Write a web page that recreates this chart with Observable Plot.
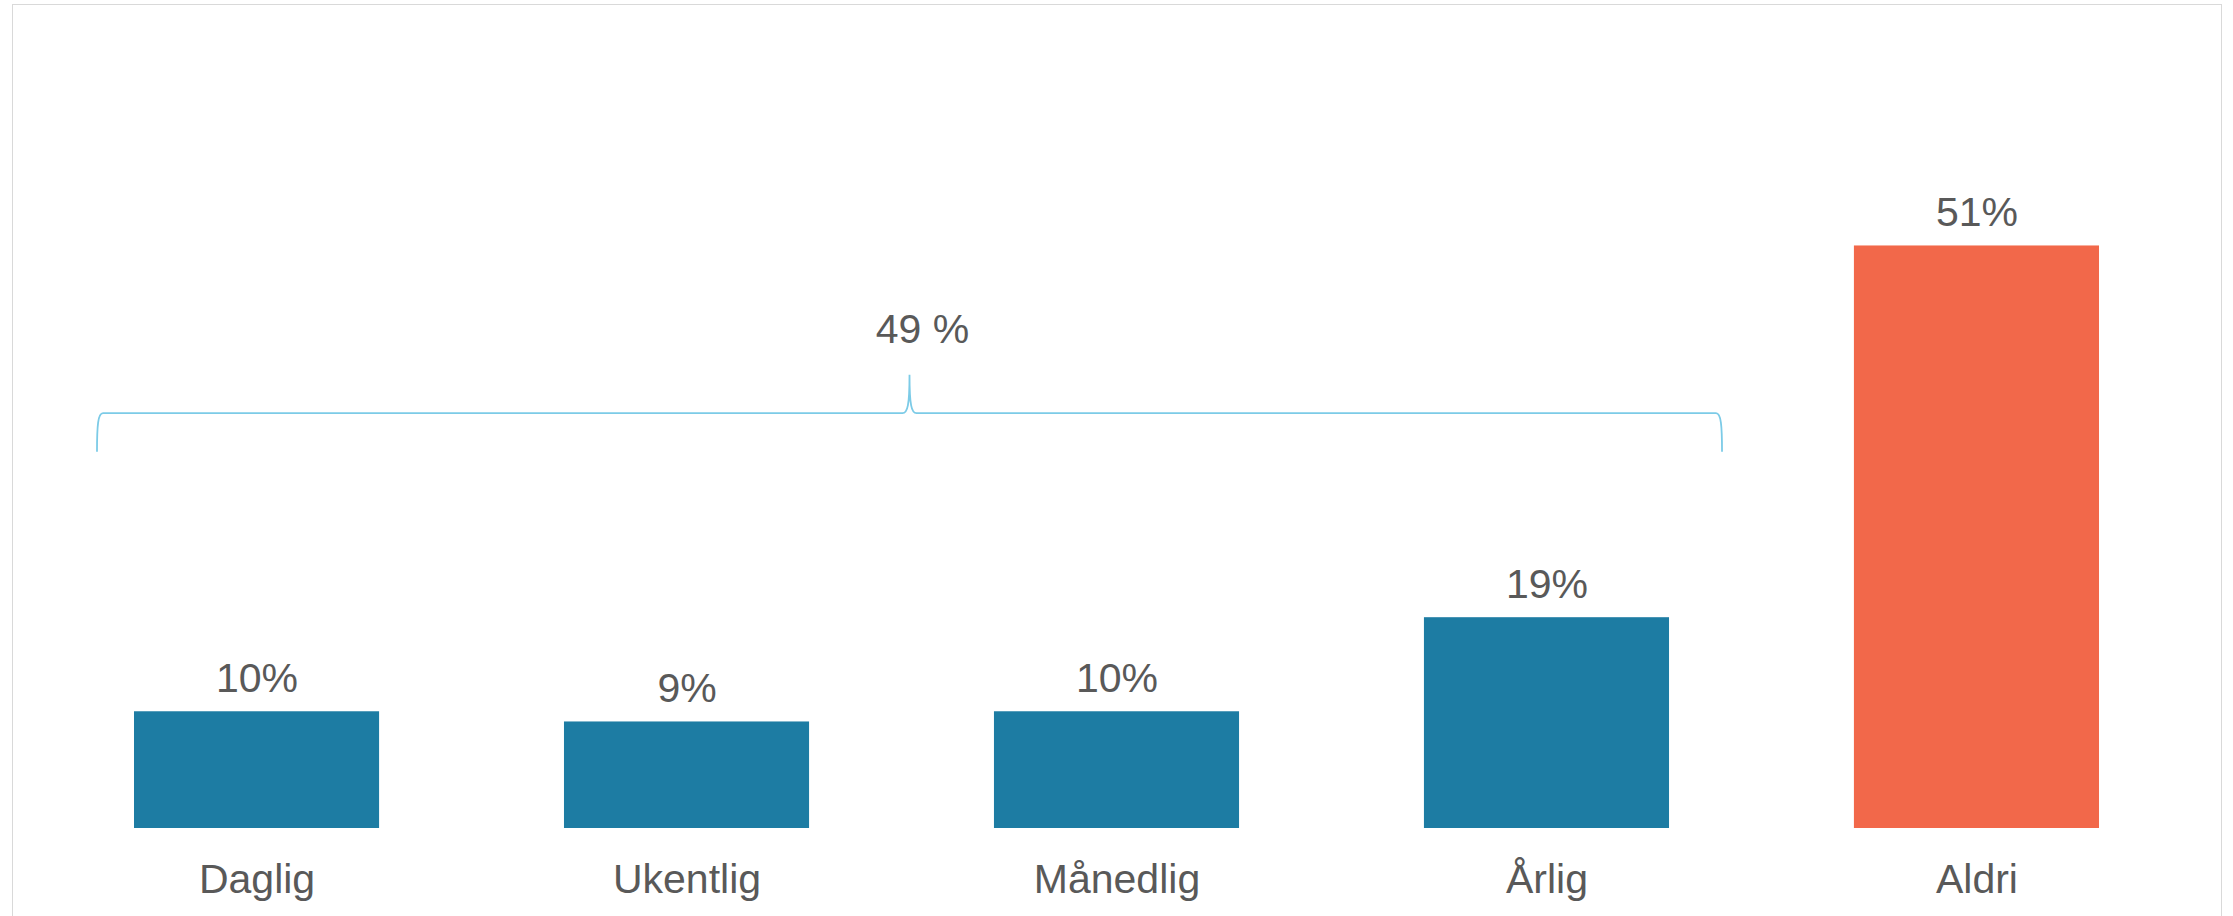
<!DOCTYPE html>
<html><head><meta charset="utf-8">
<script src="https://cdn.jsdelivr.net/npm/d3@7"></script>
<script src="https://cdn.jsdelivr.net/npm/@observablehq/plot@0.6"></script>
<style>
html,body{margin:0;padding:0;background:#fff;overflow:hidden}
#frame{position:absolute;left:12px;top:4px;width:2210px;height:1000px;border:1.5px solid #d9d9d9;box-sizing:border-box}
#chart{position:absolute;left:0;top:0}
</style></head><body><div id="frame"></div><div id="chart"></div>
<script>
const categories = ["Daglig", "Ukentlig", "Månedlig", "Årlig", "Aldri"];
const values = [10.3, 9.4, 10.3, 18.6, 51.4];
const groups = ["bruker", "bruker", "bruker", "bruker", "aldri"];
const braceCategories = ["Daglig", "Ukentlig", "Månedlig", "Årlig"];

const rows = categories.map((c, i) => ({category: c, value: values[i], group: groups[i]}));
const braceTotal = d3.sum(rows.filter(d => braceCategories.includes(d.category)), d => d.value);

const textColor = "#595959";
const font = "'Liberation Sans', Arial, sans-serif";

function brace(index, scales) {
  const x = scales.x, y = scales.y;
  const bw = x.bandwidth ? x.bandwidth() : 0;
  const L = x(braceCategories[0]) - 37;
  const R = x(braceCategories[braceCategories.length - 1]) + bw + 53;
  const M = (L + R) / 2;
  const yh = y(36.6), yb = y(33.2), yt = y(40.0);
  const p = [
    `M${L},${yb}`,
    `C${L},${yh + 12} ${L + 1},${yh} ${L + 6},${yh}`,
    `L${M - 7},${yh}`,
    `C${M - 2},${yh} ${M},${yh - 8} ${M},${yt}`,
    `C${M},${yh - 8} ${M + 2},${yh} ${M + 7},${yh}`,
    `L${R - 6},${yh}`,
    `C${R - 1},${yh} ${R},${yh + 12} ${R},${yb}`
  ].join(" ");
  const g = d3.create("svg:g");
  g.append("path").attr("d", p).attr("fill", "none")
    .attr("stroke", "#7ccbe7").attr("stroke-width", 1.8);
  g.append("text").attr("x", M + 13).attr("y", y(42.8))
    .attr("text-anchor", "middle").attr("fill", textColor)
    .attr("font-size", 41).attr("font-family", font)
    .text(`${Math.round(braceTotal)} %`);
  return g.node();
}

const chart = Plot.plot({
  width: 2233,
  height: 916,
  marginLeft: 5,
  marginRight: 5,
  marginTop: 148,
  marginBottom: 88,
  style: {fontFamily: font, background: "transparent", overflow: "visible"},
  x: {domain: categories, paddingInner: 0.43, paddingOuter: 0.3, round: false, axis: null},
  y: {domain: [0, 60], axis: null},
  color: {domain: ["bruker", "aldri"], range: ["#1d7ca3", "#f2684a"]},
  marks: [
    Plot.barY(rows, {x: "category", y: "value", fill: "group"}),
    Plot.text(rows, {x: "category", y: "value", text: d => `${Math.round(d.value)}%`,
      dy: -32.6, lineAnchor: "middle", fontSize: 41, fill: textColor}),
    Plot.text(rows, {x: "category", text: "category", frameAnchor: "bottom",
      dy: 51, lineAnchor: "middle", fontSize: 41, fill: textColor}),
    brace
  ]
});
document.getElementById("chart").appendChild(chart);
</script></body></html>
